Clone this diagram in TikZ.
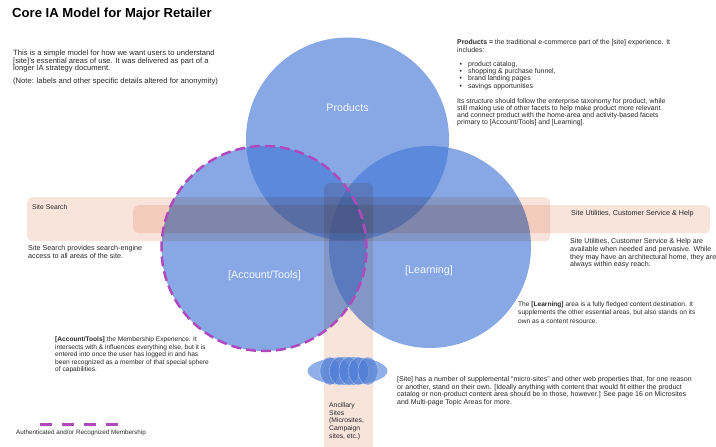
\documentclass[tikz,border=0pt]{standalone}
\usepackage{fontspec}
\setmainfont{Liberation Sans}
\definecolor{cblue}{RGB}{70,120,215}
\definecolor{cpink}{RGB}{249,228,220}
\definecolor{cpurple}{RGB}{178,72,190}
\definecolor{ctext}{RGB}{40,40,40}
\begin{document}
\begin{tikzpicture}[x=1pt,y=-1pt,
  venn/.style={circle,inner sep=0,fill=cblue,fill opacity=0.64,draw=none},
  band/.style={rectangle,inner sep=0,fill=cpink,rounded corners=5pt,draw=none,anchor=north west},
  txt/.style={anchor=north west,inner sep=0,align=left,text=ctext},
  lbl/.style={inner sep=0,text=white,text opacity=0.9,font=\fontsize{10.7}{12}\selectfont},
  member/.style={draw=cpurple,line width=2.5pt,dash pattern=on 10pt off 5pt},
]
\useasboundingbox[fill=white] (0,0) rectangle (716,447);

% circles
\node[venn,minimum size=203pt] (products) at (347.5,139) {};
\node[venn,minimum size=205pt] (account) at (264,248.5) {};
\node[venn,minimum size=202pt] (learning) at (430,247) {};

% bands
\begin{scope}[blend mode=multiply]
\node[band,minimum width=523pt,minimum height=44pt] (search) at (27,197) {};
\node[band,minimum width=577pt,minimum height=28pt] (utilities) at (133,205) {};
\node[band,minimum width=49pt,minimum height=270pt] (ancband) at (324,183) {};
\end{scope}

% membership outline
\draw[member] (account.center) circle[radius=102.5pt];

% ancillary sites
\fill[cblue,fill opacity=0.6] (347.5,371) ellipse[x radius=40pt,y radius=14pt];
\foreach \cx in {330,339.5,349,358.5,368}
  \filldraw[fill=cblue,fill opacity=0.55,draw=white,draw opacity=0.45,line width=0.4pt] (\cx,371) ellipse[x radius=10pt,y radius=14pt];

% circle labels
\node[lbl] (lp) at (347.5,108) {Products};
\node[lbl] (la) at (264.5,276) {[Account/Tools]};
\node[lbl] (ll) at (429,271) {[Learning]};

% title
\node[anchor=west,inner sep=0,font=\bfseries\fontsize{13.1}{15}\selectfont] (title) at (12,14) {Core IA Model for Major Retailer};

% intro
\node[txt,font=\fontsize{7.6}{7.5}\selectfont] (intro) at (13,50) {This is a simple model for how we want users to understand\\
{}[site]'s essential areas of use. It was delivered as part of a\\
longer IA strategy document.\\[5pt]
(Note: labels and other specific details altered for anonymity)};

% products text
\node[txt,font=\fontsize{6.9}{7.3}\selectfont] (ptext) at (457,39.5) {\textbf{Products =} the traditional e-commerce part of the [site] experience. It\\
includes:\\[7pt]
\hspace*{2.5pt}\makebox[8.5pt][l]{•}product catalog,\\
\hspace*{2.5pt}\makebox[8.5pt][l]{•}shopping \& purchase funnel,\\
\hspace*{2.5pt}\makebox[8.5pt][l]{•}brand landing pages\\
\hspace*{2.5pt}\makebox[8.5pt][l]{•}savings opportunities\\[7.5pt]
Its structure should follow the enterprise taxonomy for product, while\\
still making use of other facets to help make product more relevant\\
and connect product with the home-area and activity-based facets\\
primary to [Account/Tools] and [Learning].};

% band labels
\node[anchor=west,inner sep=0,text=ctext,font=\fontsize{6.8}{8}\selectfont] (sslabel) at (32,207.5) {Site Search};
\node[anchor=west,inner sep=0,text=ctext,font=\fontsize{7.2}{8}\selectfont] (sulabel) at (571,214) {Site Utilities, Customer Service \& Help};

% site search text
\node[txt,font=\fontsize{7.2}{7.8}\selectfont] (sstext) at (28,245.5) {Site Search provides search-engine\\
access to all areas of the site.};

% site utilities text
\node[txt,font=\fontsize{7.1}{7.6}\selectfont] (sutext) at (570,238.5) {Site Utilities, Customer Service \& Help are\\
available when needed and pervasive. While\\
they may have an architectural home, they are\\
always within easy reach.};

% learning text
\node[txt,font=\fontsize{6.6}{8.4}\selectfont] (ltext) at (518,301.5) {The \textbf{[Learning]} area is a fully fledged content destination. It\\
supplements the other essential areas, but also stands on its\\
own as a content resource.};

% account text
\node[txt,font=\fontsize{6.6}{7.5}\selectfont] (atext) at (55,337) {\textbf{[Account/Tools]} the Membership Experience. It\\
intersects with \& influences everything else, but it is\\
entered into once the user has logged in and has\\
been recognized as a member of that special sphere\\
of capabilities.};

% site text
\node[txt,font=\fontsize{7.0}{7.5}\selectfont] (stext) at (397,376.5) {{}[Site] has a number of supplemental ``micro-sites'' and other web properties that, for one reason\\
or another, stand on their own. [Ideally anything with content that would fit either the product\\
catalog or non-product content area should be in those, however.] See page 16 on Microsites\\
and Multi-page Topic Areas for more.};

% ancillary text
\node[txt,font=\fontsize{6.8}{7.6}\selectfont] (anctext) at (329,402.5) {Ancillary\\Sites\\(Microsites,\\Campaign\\sites, etc.)};

% legend
\coordinate (lg1) at (40,424);
\coordinate (lg2) at (119,424);
\draw[draw=cpurple,line width=3pt,dash pattern=on 12pt off 10pt] (lg1) -- (lg2);
\node[anchor=west,inner sep=0,text=ctext,font=\fontsize{6.3}{7}\selectfont] (legend) at (16,433) {Authenticated and/or Recognized Membership};
\end{tikzpicture}
\end{document}
